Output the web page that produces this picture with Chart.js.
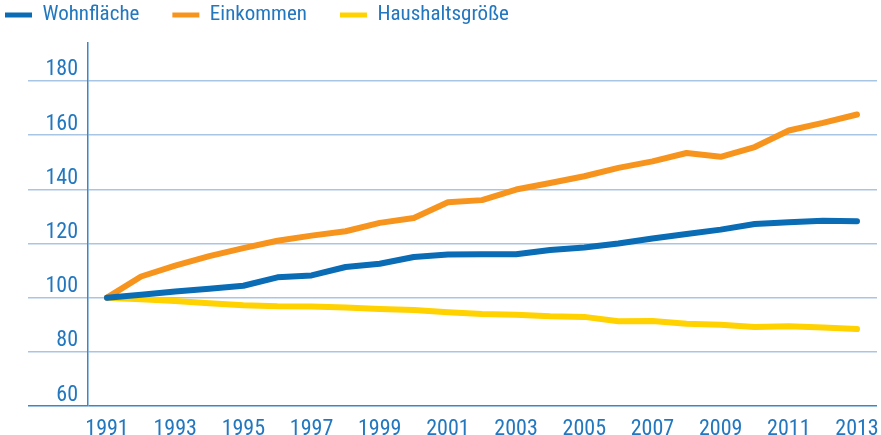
<!DOCTYPE html>
<html><head><meta charset="utf-8">
<script src="https://cdn.jsdelivr.net/npm/chart.js@4"></script>
<style>html,body{margin:0;padding:0;background:#fff}#wrap{width:881px;height:435px}</style>
</head><body><div id="wrap"><canvas id="c" width="881" height="435"></canvas></div>
<script>
const years = [1991,1992,1993,1994,1995,1996,1997,1998,1999,2000,2001,2002,2003,2004,2005,2006,2007,2008,2009,2010,2011,2012,2013];
const wohnflaeche = [100,101.1,102.3,103.3,104.4,107.5,108.2,111.3,112.5,115.0,115.9,116.0,116.0,117.6,118.5,120.0,121.8,123.5,125.1,127.2,127.8,128.4,128.2];
const einkommen = [100,107.8,111.8,115.3,118.3,121.0,122.9,124.5,127.6,129.4,135.2,136.0,139.9,142.3,144.8,147.9,150.3,153.4,152.0,155.6,161.7,164.5,167.6];
const haushaltsgroesse = [100,99.4,98.8,97.9,97.2,96.8,96.7,96.4,95.8,95.4,94.6,94.0,93.7,93.1,92.9,91.3,91.4,90.4,90.0,89.2,89.4,89.0,88.4];
const xTickYears = [1991,1993,1995,1997,1999,2001,2003,2005,2007,2009,2011,2013];
const yTickValues = [60,80,100,120,140,160,180];
const seriesNames = ['Wohnfläche','Einkommen','Haushaltsgröße'];

const FONT = "'Liberation Sans Narrow', 'Arial Narrow', 'Roboto Condensed', Lato, sans-serif";
const TEXT = '#2277bf';
const AXIS = '#3a86c6';
const GRID = '#a9c5e4';
const COLORS = ['#0a6cb5','#f7941d','#ffd200'];
const LEG_PAD = 33;
const LEG_FONT = 21;

const toPts = arr => arr.map((v,i)=>({x:years[i], y:v}));

const ds = [wohnflaeche, einkommen, haushaltsgroesse].map((arr,i)=>({
  label: seriesNames[i],
  data: toPts(arr),
  borderColor: COLORS[i],
  backgroundColor: COLORS[i],
  borderWidth: 6,
  pointRadius: 0,
  tension: 0,
  borderCapStyle: 'round',
  borderJoinStyle: 'round'
}));

const legendFix = {
  id:'legendFix',
  afterInit(chart){
    const lg = chart.legend;
    const orig = lg.fit;
    lg.fit = function(){ orig.call(this); this.height = 43; };
  },
  afterLayout(chart){
    const lg = chart.legend;
    lg.left = 5 - LEG_PAD;
    lg.top = 15 - LEG_FONT/2 - LEG_PAD;
  }
};

new Chart(document.getElementById('c'), {
  type:'line',
  data:{ datasets: ds },
  plugins:[legendFix],
  options:{
    responsive:false,
    animation:false,
    layout:{padding:{left:0,right:4,top:0,bottom:0}},
    plugins:{
      tooltip:{enabled:false},
      legend:{
        align:'start',
        labels:{
          boxWidth:27, boxHeight:5, padding:LEG_PAD, color:TEXT,
          font:{family:FONT, size:LEG_FONT},
          generateLabels(chart){
            const items = Chart.defaults.plugins.legend.labels.generateLabels(chart);
            items.forEach(it=>{ it.lineWidth = 0; it.fillStyle = it.strokeStyle; });
            return items;
          }
        }
      }
    },
    scales:{
      x:{
        type:'linear',
        min:1990.4427, max:2013.5867,
        grid:{display:false},
        border:{display:false},
        afterBuildTicks(s){ s.ticks = xTickYears.map(v=>({value:v})); },
        ticks:{ color:TEXT, font:{family:FONT,size:22}, padding:2, maxRotation:0, autoSkip:false, callback:v=>String(v) },
        afterFit(s){ s.height = 29; }
      },
      y:{
        min:60, max:194,
        afterBuildTicks(s){ s.ticks = yTickValues.map(v=>({value:v})); },
        grid:{ color:ctx=> (ctx.tick && ctx.tick.value===60) ? AXIS : GRID, lineWidth:1.5, tickLength:60, drawTicks:true },
        border:{display:true, color:AXIS, width:1.5},
        ticks:{ padding:-50, labelOffset:-11, color:TEXT, font:{family:FONT,size:22} },
        afterFit(s){ s.width = 88; }
      }
    }
  }
});
</script>
</body></html>
